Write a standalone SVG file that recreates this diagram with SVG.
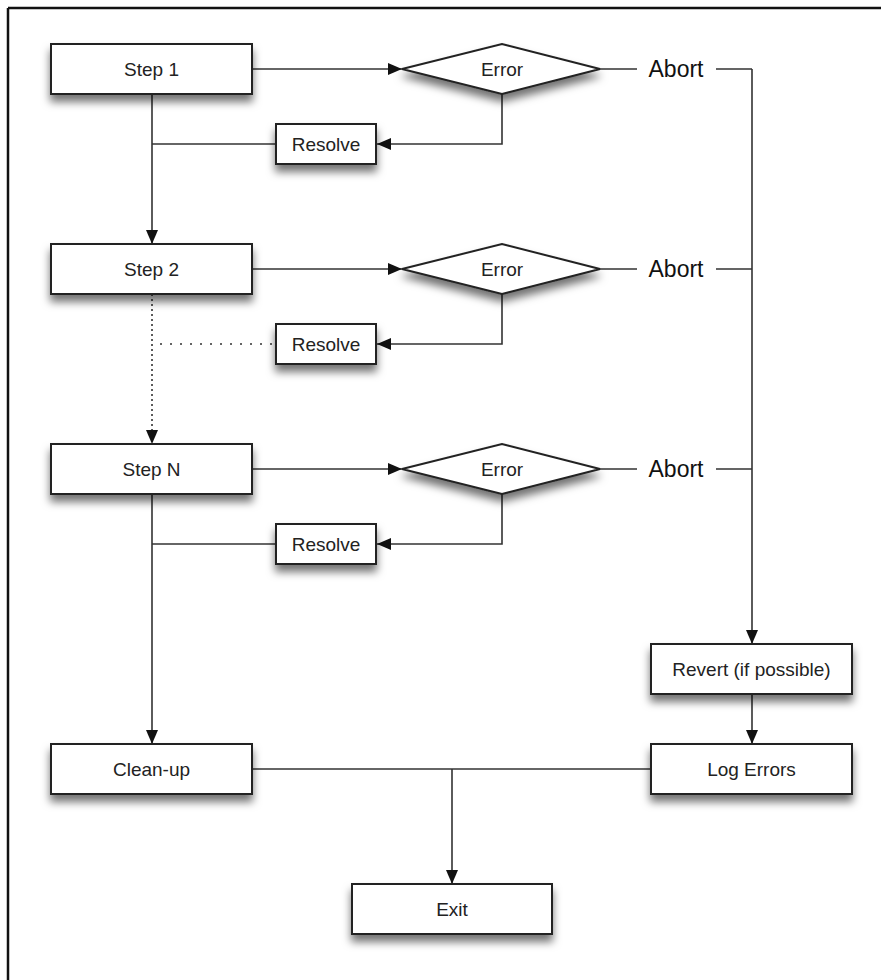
<svg xmlns="http://www.w3.org/2000/svg" width="881" height="980" viewBox="0 0 881 980">
<style>
.box{fill:#fff;stroke:#222;stroke-width:2;filter:url(#sh)}
.lbl{font-family:"Liberation Sans",Arial,sans-serif;font-size:19px;fill:#222;text-anchor:middle;dominant-baseline:central}
.abort{font-family:"Liberation Sans",Arial,sans-serif;font-size:23px;fill:#111;text-anchor:middle;dominant-baseline:central}
.ln{fill:none;stroke:#333;stroke-width:1.6}
.arr{marker-end:url(#ah)}
.dotv{stroke-dasharray:2 3}
.doth{stroke-dasharray:2 8}
</style>
<defs>
<filter id="sh" x="-20%" y="-30%" width="140%" height="190%">
<feDropShadow dx="0" dy="7" stdDeviation="4" flood-color="#000" flood-opacity="0.55"/>
</filter>
<marker id="ah" markerUnits="userSpaceOnUse" markerWidth="14" markerHeight="12" refX="14" refY="6" orient="auto">
<path d="M0,0 L14,6 L0,12 Z" fill="#111"/>
</marker>
</defs>
<rect width="881" height="980" fill="#fff"/>
<path d="M8,8 H881 M8,8 V980" fill="none" stroke="#111" stroke-width="2.5"/>

<g id="connectors">
<path class="ln arr" d="M252,69 H402"/>
<path class="ln arr" d="M252,269 H402"/>
<path class="ln arr" d="M252,469 H402"/>
<path class="ln arr" d="M502,94 V144 H377"/>
<path class="ln arr" d="M502,294 V344 H377"/>
<path class="ln arr" d="M502,494 V544 H377"/>
<path class="ln" d="M276,144 H152"/>
<path class="ln" d="M276,544 H152"/>
<path class="ln arr" d="M152,94 V244"/>
<path class="ln arr dotv" d="M152,294 V444"/>
<path class="ln doth" d="M272,344 H152"/>
<path class="ln arr" d="M152,494 V744"/>
<path class="ln" d="M600,69 H637 M716,69 H752"/>
<path class="ln" d="M600,269 H637 M716,269 H752"/>
<path class="ln" d="M600,469 H637 M716,469 H752"/>
<path class="ln arr" d="M752,69 V644"/>
<path class="ln arr" d="M752,694 V744"/>
<path class="ln" d="M252,769 H651"/>
<path class="ln arr" d="M452,769 V884"/>
</g>

<g id="step1"><rect class="box" x="51" y="44" width="201" height="50"/><text class="lbl" x="151.5" y="69">Step 1</text></g>
<g id="error1"><polygon class="box" points="402,69 502,44 600,69 502,94"/><text class="lbl" x="502" y="69">Error</text></g>
<g id="abort1"><text class="abort" x="676" y="69">Abort</text></g>
<g id="resolve1"><rect class="box" x="276" y="124" width="100" height="40"/><text class="lbl" x="326" y="144">Resolve</text></g>

<g id="step2"><rect class="box" x="51" y="244" width="201" height="50"/><text class="lbl" x="151.5" y="269">Step 2</text></g>
<g id="error2"><polygon class="box" points="402,269 502,244 600,269 502,294"/><text class="lbl" x="502" y="269">Error</text></g>
<g id="abort2"><text class="abort" x="676" y="269">Abort</text></g>
<g id="resolve2"><rect class="box" x="276" y="324" width="100" height="40"/><text class="lbl" x="326" y="344">Resolve</text></g>

<g id="stepN"><rect class="box" x="51" y="444" width="201" height="50"/><text class="lbl" x="151.5" y="469">Step N</text></g>
<g id="error3"><polygon class="box" points="402,469 502,444 600,469 502,494"/><text class="lbl" x="502" y="469">Error</text></g>
<g id="abort3"><text class="abort" x="676" y="469">Abort</text></g>
<g id="resolve3"><rect class="box" x="276" y="524" width="100" height="40"/><text class="lbl" x="326" y="544">Resolve</text></g>

<g id="revert"><rect class="box" x="651" y="644" width="201" height="50"/><text class="lbl" x="751.5" y="669">Revert (if possible)</text></g>
<g id="cleanup"><rect class="box" x="51" y="744" width="201" height="50"/><text class="lbl" x="151.5" y="769">Clean-up</text></g>
<g id="logerrors"><rect class="box" x="651" y="744" width="201" height="50"/><text class="lbl" x="751.5" y="769">Log Errors</text></g>
<g id="exit"><rect class="box" x="352" y="884" width="200" height="50"/><text class="lbl" x="452" y="909">Exit</text></g>
</svg>
